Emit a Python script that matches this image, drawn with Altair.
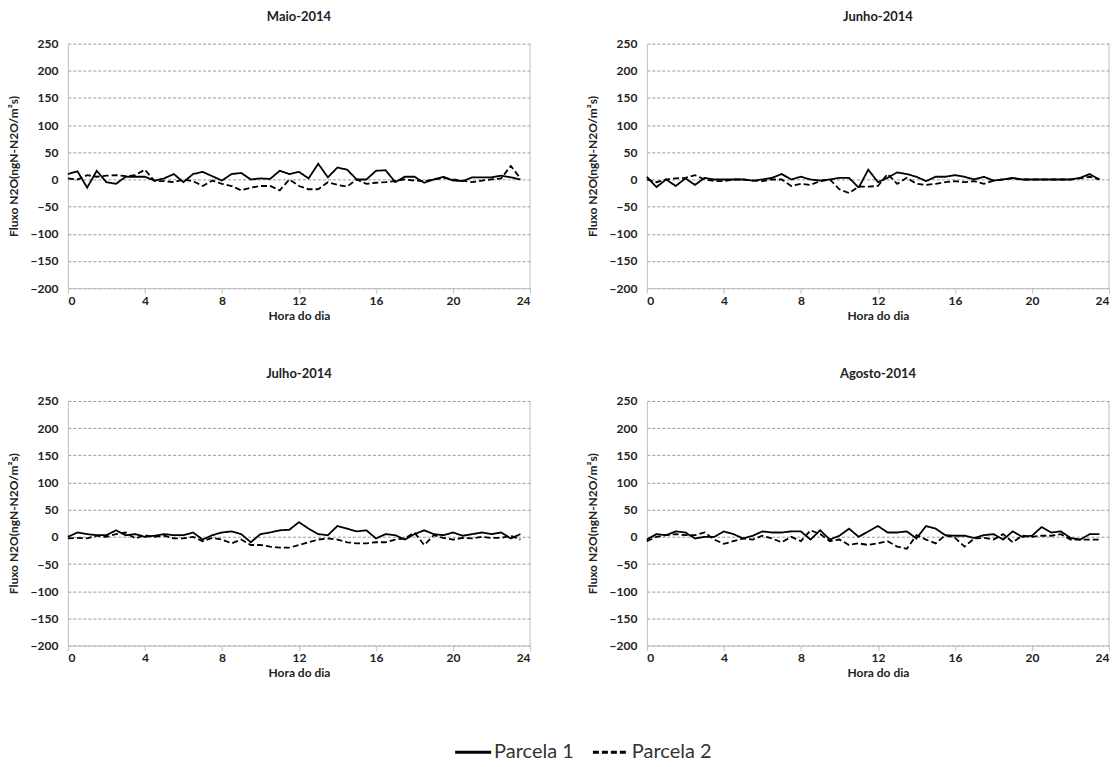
import altair as alt
import pandas as pd

hours = [i * 0.5 for i in range(48)]

months = ["Maio-2014", "Junho-2014", "Julho-2014", "Agosto-2014"]
series_names = ["Parcela 1", "Parcela 2"]

maio_p1 = [10, 15, -15, 16, -5, -8, 5, 5, 5, -2, 2, 10, -5, 10, 14, 6,
           -2, 10, 12, 0, 2, 1, 16, 10, 14, 2, 29, 4, 22, 18, 0, 0,
           16, 17, -5, 5, 5, -6, 0, 5, -2, -3, 4, 4, 4, 7, 4, 0]
maio_p2 = [2, 0, 8, 5, 7, 8, 6, 8, 18, -3, -3, -5, 0, -3, -12, -2,
           -8, -12, -20, -15, -12, -12, -20, 0, -12, -18, -18, -5, -10, -13, 0, -8,
           -6, -5, -3, 0, -2, -3, 0, 3, 0, -2, -5, -2, 0, 2, 25, 2]

junho_p1 = [5, -14, 0, -12, 2, -10, 3, 0, 0, 0, 0, -2, 0, 3, 10, 0,
            5, 0, -2, 0, 3, 3, -15, 18, -5, 3, 13, 10, 5, -3, 5, 5,
            8, 5, 0, 5, -2, 0, 3, 0, 0, 0, 0, 0, 0, 3, 10, 0]
junho_p2 = [0, -5, 0, 2, 3, 8, 0, -3, -3, 0, 0, -2, -3, 0, 0, -12,
            -8, -10, -3, 0, -18, -25, -13, -13, -12, 10, -8, 3, -8, -10, -8, -5,
            -3, -5, -3, -8, -2, 0, 2, 0, 0, 0, 0, 0, 0, 2, 5, 0]

julho_p1 = [0, 8, 5, 3, 3, 12, 3, 5, 0, 2, 5, 3, 3, 8, -5, 3,
            8, 10, 5, -10, 5, 8, 12, 13, 27, 15, 5, 3, 20, 15, 10, 12,
            -3, 5, 3, -5, 5, 12, 5, 3, 8, 2, 5, 8, 5, 8, -3, 5]
julho_p2 = [-3, -2, -3, 2, 0, 5, 8, -3, 3, 0, 2, -3, -3, 0, -8, -2,
            -5, -12, -5, -15, -15, -18, -20, -20, -15, -10, -5, -3, -5, -10, -12, -12,
            -10, -10, -5, -3, 8, -15, 3, -2, -5, -2, -3, 0, -2, -2, 2, -5]

agosto_p1 = [-5, 5, 3, 10, 8, -3, 0, 0, 10, 5, -3, 2, 10, 8, 8, 10,
             10, -5, 12, -5, 2, 15, 0, 10, 20, 8, 8, 10, -3, 20, 15, 3,
             2, 2, -2, 3, 5, -5, 10, 0, 2, 18, 8, 10, -2, -5, 5, 5]
agosto_p2 = [-8, 0, 3, 5, 3, 3, 8, -5, -13, -8, -3, -5, 2, -3, -10, 0,
             -8, 12, 5, -8, -5, -15, -12, -15, -12, -8, -18, -22, 3, -5, -12, 3,
             -2, -18, -3, -2, -5, 5, -10, 2, 0, 2, 2, 5, -5, -5, -5, -5]

x_ticks = [0, 4, 8, 12, 16, 20, 24]
y_ticks = [-200, -150, -100, -50, 0, 50, 100, 150, 200, 250]

all_series = {
    "Maio-2014": (maio_p1, maio_p2),
    "Junho-2014": (junho_p1, junho_p2),
    "Julho-2014": (julho_p1, julho_p2),
    "Agosto-2014": (agosto_p1, agosto_p2),
}

FONT = "Lato"
W, H = 463, 245


def panel(month, show_legend):
    p1, p2 = all_series[month]
    rows = []
    for h, v in zip(hours, p1):
        rows.append({"hora": h, "fluxo": v, "serie": series_names[0]})
    for h, v in zip(hours, p2):
        rows.append({"hora": h, "fluxo": v, "serie": series_names[1]})
    df = pd.DataFrame(rows)

    legend = None
    if show_legend:
        legend = alt.Legend(
            title=None, orient="none", direction="horizontal",
            legendX=386, legendY=690,
            symbolType="stroke", symbolSize=1300, symbolStrokeWidth=3,
            symbolStrokeColor="black",
            labelFont=FONT, labelFontSize=20, labelColor="#333",
            columnPadding=12, symbolOffset=0, labelOffset=1,
        )

    lines = alt.Chart(df).mark_line(color="black", strokeWidth=1.8).encode(
        x=alt.X("hora:Q", title="Hora do dia",
                scale=alt.Scale(domain=[0, 24], nice=False),
                axis=alt.Axis(values=x_ticks, format="d", grid=False,
                              domainColor="#bfbfbf", tickColor="#bfbfbf",
                              tickSize=5, labelFont=FONT, labelFontWeight="bold",
                              labelFontSize=12, labelColor="#222",
                              titleFont=FONT, titleFontWeight="bold",
                              titleFontSize=12, titleColor="#222",
                              titlePadding=4, labelPadding=2)),
        y=alt.Y("fluxo:Q", title="Fluxo N2O(ngN-N2O/m²s)",
                scale=alt.Scale(domain=[-200, 250], nice=False),
                axis=alt.Axis(values=y_ticks, grid=True, gridDash=[3, 2],
                              gridColor="#9a9a9a", gridWidth=1,
                              domainColor="#bfbfbf", ticks=False,
                              labelFont=FONT, labelFontWeight="bold",
                              labelFontSize=12, labelColor="#222",
                              labelPadding=10,
                              titleFont=FONT, titleFontWeight="bold",
                              titleFontSize=12, titleColor="#222",
                              titlePadding=10)),
        strokeDash=alt.StrokeDash(
            "serie:N",
            scale=alt.Scale(domain=series_names, range=[[1, 0], [6, 3]]),
            legend=legend,
        ),
    )

    border = alt.Chart(pd.DataFrame({"x": [24]})).mark_rule(
        color="#bfbfbf", strokeWidth=1
    ).encode(x="x:Q")

    return alt.layer(border, lines).properties(
        width=W, height=H,
        title=alt.TitleParams(month, font=FONT, fontSize=13, fontWeight="bold",
                              color="#222", offset=14),
    )


top = alt.hconcat(panel(months[0], True), panel(months[1], False), spacing=55)
bottom = alt.hconcat(panel(months[2], False), panel(months[3], False), spacing=55)

chart = alt.vconcat(top, bottom, spacing=47).configure_view(
    stroke=None
).properties(
    padding={"left": 7, "top": 10, "right": 5, "bottom": 5},
    background="white",
)

chart.save("out.html", embed_options={"renderer": "svg", "actions": False})
